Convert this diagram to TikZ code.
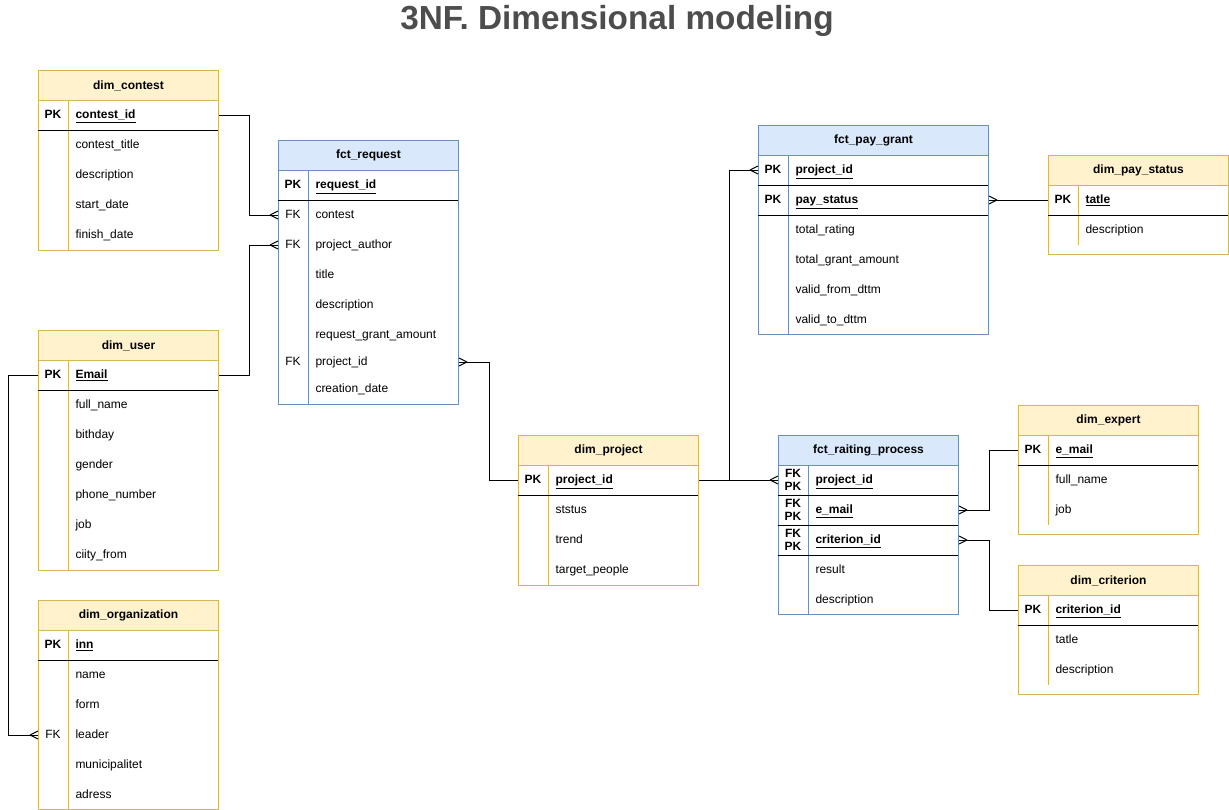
\documentclass[tikz,border=0pt]{standalone}
\usepackage{fontspec}
\setmainfont{Liberation Sans}
\usetikzlibrary{positioning}
\definecolor{dimfill}{HTML}{FFF2CC}
\definecolor{dimline}{HTML}{D6B656}
\definecolor{fctfill}{HTML}{DAE8FC}
\definecolor{fctline}{HTML}{6C8EBF}
\definecolor{titlegray}{HTML}{4D4D4D}
\begin{document}
\begin{tikzpicture}
  [x=0.75pt,y=-0.75pt,line width=0.75pt,font=\fontsize{9}{10.8}\selectfont,
   dimhead/.style={draw=dimline,fill=dimfill,font=\fontsize{9}{10.8}\selectfont\bfseries,
     minimum width=135pt,minimum height=22.5pt,anchor=north west,inner sep=0pt},
   fcthead/.style={dimhead,draw=fctline,fill=fctfill},
   key/.style={inner sep=0pt,text height=7.5pt,text depth=2pt},
   pkey/.style={key,font=\fontsize{9}{10.8}\selectfont\bfseries},
   field/.style={key,anchor=west},
   pfield/.style={field,font=\fontsize{9}{10.8}\selectfont\bfseries},
   rel/.style={draw=black},
   crow/.pic={\draw (-8,0) -- (0,-4) (-8,0) -- (0,4);}]

  \useasboundingbox (0,0) rectangle (1229,810);
  \node[font=\fontsize{25}{29}\selectfont\bfseries,text=titlegray] (title) at (617,21) {3NF. Dimensional modeling};

  % dim_contest
  \draw[dimline] (38,100) rectangle (218,250);
  \draw[dimline] (68,100) -- (68,250);
  \node[dimhead] (contest) at (38,70) {dim\_contest};
  \draw (38,130) -- (218,130);
  \node[pkey] at (53,115) {PK};
  \node[pfield] (contest-id) at (75,115) {\underline{contest\_id}};
  \foreach \y/\f in {145/contest\_title,175/description,205/start\_date,235/finish\_date}
    \node[field] at (75,\y) {\f};

  % fct_request
  \draw[fctline] (278,170) rectangle (458,404);
  \draw[fctline] (308,170) -- (308,404);
  \node[fcthead] (request) at (278,140) {fct\_request};
  \draw (278,200) -- (458,200);
  \node[pkey] at (293,185) {PK};
  \node[pfield] (req-id) at (315,185) {\underline{request\_id}};
  \node[key] at (293,215) {FK};
  \node[field] (req-contest) at (315,215) {contest};
  \node[key] at (293,245) {FK};
  \node[field] (req-author) at (315,245) {project\_author};
  \foreach \y/\f in {275/title,305/description,335/request\_grant\_amount,389/creation\_date}
    \node[field] at (315,\y) {\f};
  \node[key] at (293,362) {FK};
  \node[field] (req-project) at (315,362) {project\_id};

  % dim_user
  \draw[dimline] (38,360) rectangle (218,570);
  \draw[dimline] (68,360) -- (68,570);
  \node[dimhead] (user) at (38,330) {dim\_user};
  \draw (38,390) -- (218,390);
  \node[pkey] at (53,375) {PK};
  \node[pfield] (user-email) at (75,375) {\underline{Email}};
  \foreach \y/\f in {405/full\_name,435/bithday,465/gender,495/phone\_number,525/job,555/ciity\_from}
    \node[field] at (75,\y) {\f};

  % dim_organization
  \draw[dimline] (38,630) rectangle (218,809);
  \draw[dimline] (68,630) -- (68,809);
  \node[dimhead] (org) at (38,600) {dim\_organization};
  \draw (38,660) -- (218,660);
  \node[pkey] at (53,645) {PK};
  \node[pfield] (org-inn) at (75,645) {\underline{inn}};
  \foreach \y/\f in {675/name,705/form,765/municipalitet,795/adress}
    \node[field] at (75,\y) {\f};
  \node[key] at (53,735) {FK};
  \node[field] (org-leader) at (75,735) {leader};

  % dim_project
  \draw[dimline] (518,465) rectangle (698,585);
  \draw[dimline] (548,465) -- (548,585);
  \node[dimhead] (project) at (518,435) {dim\_project};
  \draw (518,495) -- (698,495);
  \node[pkey] at (533,480) {PK};
  \node[pfield] (proj-id) at (555,480) {\underline{project\_id}};
  \foreach \y/\f in {510/ststus,540/trend,570/target\_people}
    \node[field] at (555,\y) {\f};

  % fct_pay_grant
  \draw[fctline] (758,155) rectangle (988,334);
  \draw[fctline] (788,155) -- (788,334);
  \node[fcthead,minimum width=172.5pt] (grant) at (758,125) {fct\_pay\_grant};
  \draw (758,185) -- (988,185);
  \draw (758,215) -- (988,215);
  \node[pkey] at (773,170) {PK};
  \node[pfield] (grant-project) at (795,170) {\underline{project\_id}};
  \node[pkey] at (773,200) {PK};
  \node[pfield] (grant-status) at (795,200) {\underline{pay\_status}};
  \foreach \y/\f in {230/total\_rating,260/total\_grant\_amount,290/valid\_from\_dttm,320/valid\_to\_dttm}
    \node[field] at (795,\y) {\f};

  % dim_pay_status
  \draw[dimline] (1048,185) rectangle (1228,254);
  \draw[dimline] (1078,185) -- (1078,245);
  \node[dimhead] (paystatus) at (1048,155) {dim\_pay\_status};
  \draw (1048,215) -- (1228,215);
  \node[pkey] at (1063,200) {PK};
  \node[pfield] (status-tatle) at (1085,200) {\underline{tatle}};
  \node[field] at (1085,230) {description};

  % fct_raiting_process
  \draw[fctline] (778,465) rectangle (958,614);
  \draw[fctline] (808,465) -- (808,614);
  \node[fcthead] (rating) at (778,435) {fct\_raiting\_process};
  \foreach \y in {495,525,555}
    \draw (778,\y) -- (958,\y);
  \foreach \y in {480,510,540}
    \node[inner sep=0pt,align=center,font=\fontsize{9}{9.5}\selectfont\bfseries] at (793,\y) {FK\\PK};
  \node[pfield] (rate-project) at (815,480) {\underline{project\_id}};
  \node[pfield] (rate-email) at (815,510) {\underline{e\_mail}};
  \node[pfield] (rate-crit) at (815,540) {\underline{criterion\_id}};
  \node[field] at (815,570) {result};
  \node[field] at (815,600) {description};

  % dim_expert
  \draw[dimline] (1018,435) rectangle (1198,534);
  \draw[dimline] (1048,435) -- (1048,525);
  \node[dimhead] (expert) at (1018,405) {dim\_expert};
  \draw (1018,465) -- (1198,465);
  \node[pkey] at (1033,450) {PK};
  \node[pfield] (expert-email) at (1055,450) {\underline{e\_mail}};
  \node[field] at (1055,480) {full\_name};
  \node[field] at (1055,510) {job};

  % dim_criterion
  \draw[dimline] (1018,595) rectangle (1198,694);
  \draw[dimline] (1048,595) -- (1048,685);
  \node[dimhead] (criterion) at (1018,565) {dim\_criterion};
  \draw (1018,625) -- (1198,625);
  \node[pkey] at (1033,610) {PK};
  \node[pfield] (crit-id) at (1055,610) {\underline{criterion\_id}};
  \node[field] at (1055,640) {tatle};
  \node[field] at (1055,670) {description};

  % relations
  \draw[rel] (contest-id -| contest.east) -- ++(30,0) |- (req-contest -| request.west);
  \pic at (req-contest -| request.west) {crow};
  \draw[rel] (user-email -| user.east) -- ++(30,0) |- (req-author -| request.west);
  \pic at (req-author -| request.west) {crow};
  \draw[rel] (user-email -| user.west) -- ++(-30,0) |- (org-leader -| org.west);
  \pic at (org-leader -| org.west) {crow};
  \draw[rel] (req-project -| request.east) -- ++(30,0) |- (proj-id -| project.west);
  \pic[rotate=180] at (req-project -| request.east) {crow};
  \draw[rel] (proj-id -| project.east) -- ++(30,0) |- (grant-project -| grant.west);
  \pic at (grant-project -| grant.west) {crow};
  \draw[rel] (proj-id -| project.east) -- (proj-id -| rating.west);
  \pic at (proj-id -| rating.west) {crow};
  \draw[rel] (grant-status -| grant.east) -- (status-tatle -| paystatus.west);
  \pic[rotate=180] at (grant-status -| grant.east) {crow};
  \draw[rel] (rate-email -| rating.east) -- ++(30,0) |- (expert-email -| expert.west);
  \pic[rotate=180] at (rate-email -| rating.east) {crow};
  \draw[rel] (rate-crit -| rating.east) -- ++(30,0) |- (crit-id -| criterion.west);
  \pic[rotate=180] at (rate-crit -| rating.east) {crow};

\end{tikzpicture}
\end{document}
